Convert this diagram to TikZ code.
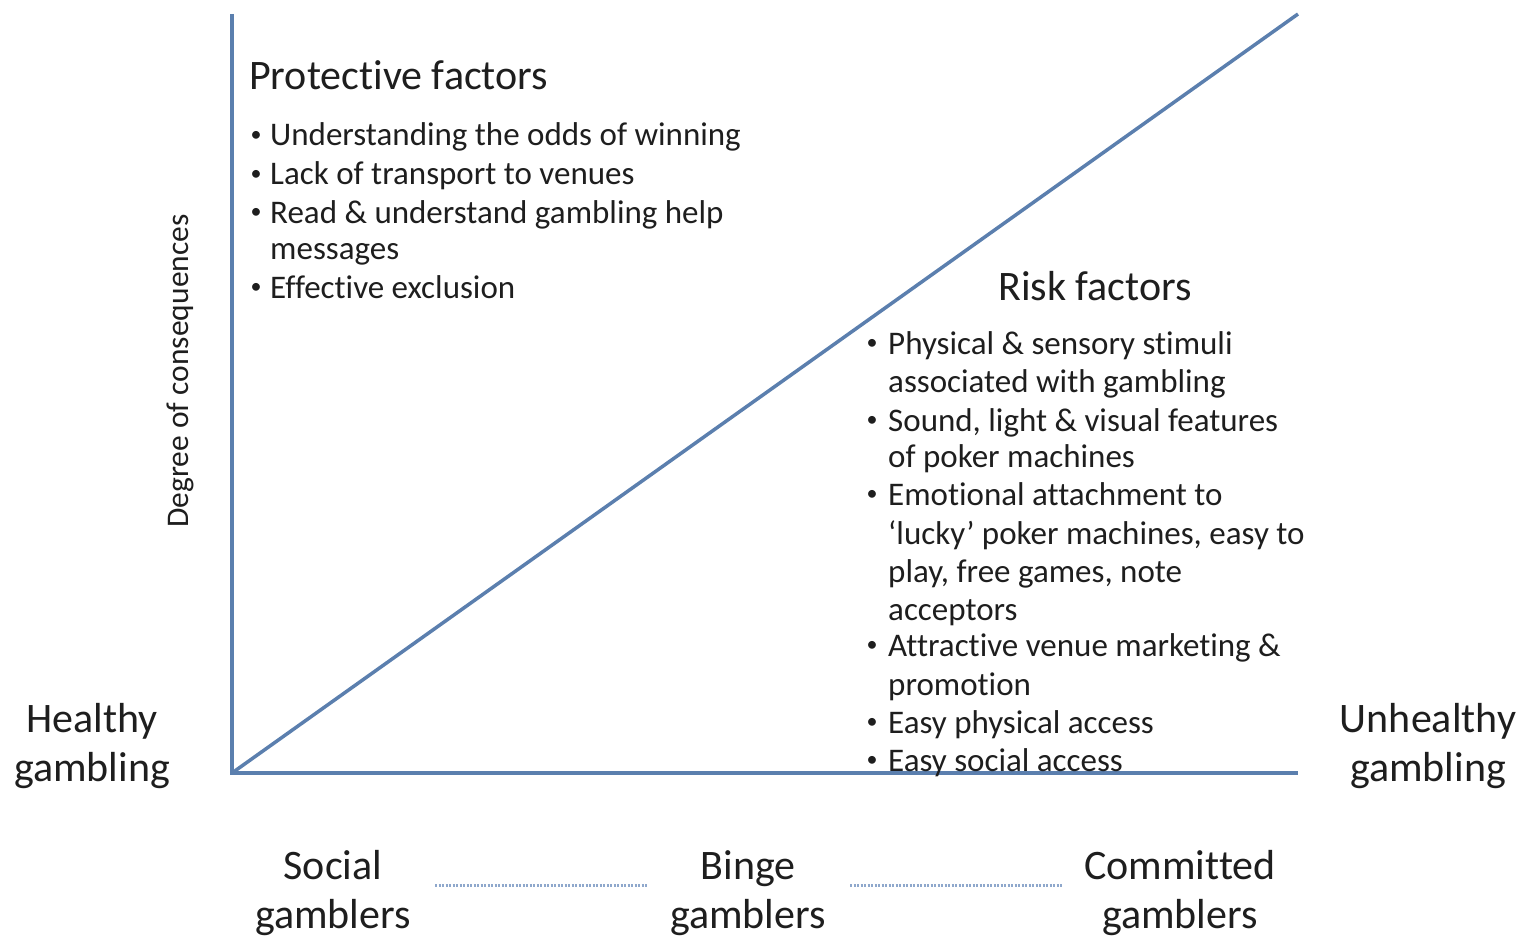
\documentclass[tikz,border=0pt]{standalone}
\usepackage{fontspec}
\setmainfont[Ligatures=NoCommon]{Carlito}
\begin{document}
\begin{tikzpicture}[x=1pt,y=-1pt,
  axis/.style={line width=3.5pt,draw=axisblue},
  dots/.style={line width=3pt,draw=dotblue,dash pattern=on 2pt off 1.5pt},
  big/.style={font=\fontsize{42}{49}\selectfont,text=ink,align=center,inner sep=0pt},
  head/.style={font=\fontsize{42}{48}\selectfont,text=ink,inner sep=0pt},
  item/.style={font=\fontsize{33}{38}\selectfont,text=ink,inner sep=0pt,anchor=base west},
  bul/.style={font=\fontsize{22}{24}\selectfont,text=ink,inner sep=0pt}]
\definecolor{axisblue}{HTML}{5B7FAE}
\definecolor{dotblue}{HTML}{8FA8CC}
\definecolor{ink}{HTML}{1E1E1E}
\useasboundingbox (0,0) rectangle (1522,936);

% axes and diagonal
\coordinate (o) at (232,773);
\coordinate (ytop) at (232,14);
\coordinate (xend) at (1298,773);
\coordinate (dtop) at (1298,14);
\draw[axis] (ytop) -- (o) -- (xend);
\draw[axis] (o) -- (dtop);

% axis labels
\node[big] (healthy) at (92,746) {Healthy\\gambling};
\node[big] (unhealthy) at (1428,746) {Unhealthy\\gambling};
\node[font=\fontsize{31.5}{36}\selectfont,text=ink,rotate=90,inner sep=0pt] (deg) at (180,371) {Degree of consequences};

% protective factors
\node[head,anchor=base west] (prot) at (249,90) {Protective factors};
\foreach \y/\t in {146/Understanding the odds of winning,
                   185/Lack of transport to venues,
                   223/Read \& understand gambling help,
                   298/Effective exclusion}{
  \node[bul] at (256,\y-10) {•};
  \node[item] at (270,\y) {\t};
}
\node[item] (pmsg) at (270,259) {messages};

% risk factors
\node[head] (risk) at (1095,286) {Risk factors};
\foreach \y in {354,431,505,656,733,771}{
  \node[bul] at (872,\y-10) {•};
}
\foreach \y/\t in {354/Physical \& sensory stimuli,
                   392/associated with gambling,
                   431/{Sound, light \& visual features},
                   467/of poker machines,
                   505/Emotional attachment to,
                   544/{‘lucky’ poker machines, easy to},
                   582/{play, free games, note},
                   620/acceptors,
                   656/Attractive venue marketing \&,
                   695/promotion,
                   733/Easy physical access,
                   771/Easy social access}{
  \node[item] at (888,\y) {\t};
}

% gambler types along the bottom
\node[big] (social) at (333,893) {Social\\gamblers};
\node[big] (binge) at (748,893) {Binge\\gamblers};
\node[big] (committed) at (1180,893) {Committed\\gamblers};
\coordinate (d1a) at (435,885);
\coordinate (d1b) at (648,885);
\coordinate (d2a) at (850,885);
\coordinate (d2b) at (1062,885);
\draw[dots] (d1a) -- (d1b);
\draw[dots] (d2a) -- (d2b);
\end{tikzpicture}
\end{document}
